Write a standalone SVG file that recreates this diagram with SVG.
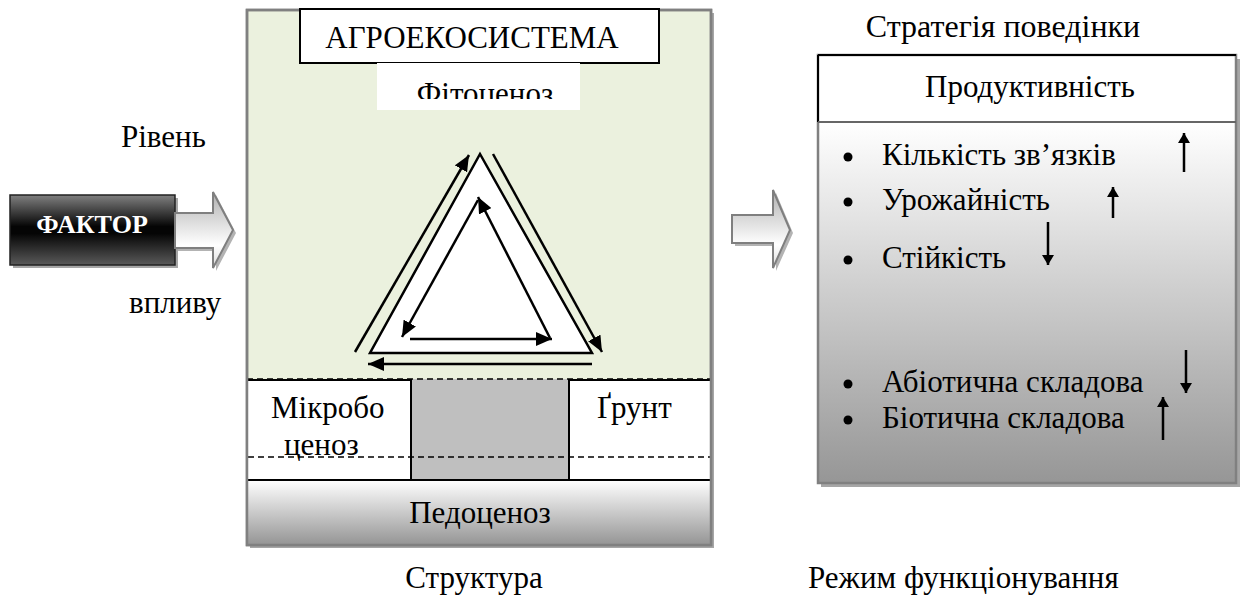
<svg xmlns="http://www.w3.org/2000/svg" width="1244" height="595" viewBox="0 0 1244 595">
<style>
.dash{stroke:#000;stroke-width:1.5;stroke-dasharray:6 4;fill:none}
.shadow{fill:#a6a6a6}
.ar{stroke:#000;stroke-width:2.5;fill:none}
.va{stroke:#000;stroke-width:2.5}
</style>
<defs>
<marker id="ah" markerUnits="userSpaceOnUse" markerWidth="18" markerHeight="14" refX="16" refY="7" orient="auto">
<path d="M0,0 L16,7 L0,14 z" fill="#000"/>
</marker>
<marker id="sh" markerUnits="userSpaceOnUse" markerWidth="12" markerHeight="12" refX="10" refY="6" orient="auto">
<path d="M0,0 L10,6 L0,12 z" fill="#000"/>
</marker>
<linearGradient id="gDark" x1="0" y1="0" x2="0" y2="1">
<stop offset="0" stop-color="#808080"/>
<stop offset="0.45" stop-color="#050505"/>
<stop offset="0.55" stop-color="#050505"/>
<stop offset="1" stop-color="#5a5a5a"/>
</linearGradient>
<linearGradient id="gArrow" x1="0" y1="0" x2="0" y2="1">
<stop offset="0" stop-color="#b0b0b0"/>
<stop offset="0.7" stop-color="#ffffff"/>
<stop offset="1" stop-color="#dcdcdc"/>
</linearGradient>
<linearGradient id="gGrey" x1="0" y1="0" x2="0" y2="1">
<stop offset="0" stop-color="#ffffff"/>
<stop offset="1" stop-color="#969696"/>
</linearGradient>
<clipPath id="clipFito"><rect x="377" y="63" width="203" height="36"/></clipPath>
</defs>

<text x="121" y="147" style="font-family:'Liberation Serif',serif;font-size:31px">Рівень</text>
<text x="129" y="313" style="font-family:'Liberation Serif',serif;font-size:31px">впливу</text>

<g id="factor">
<rect x="13" y="198" width="165" height="70" class="shadow"/>
<rect x="10" y="195" width="165" height="70" fill="url(#gDark)" stroke="#222" stroke-width="1.5"/>
<text transform="translate(92,233) scale(0.84)" text-anchor="middle" style="font-family:'Liberation Serif',serif;font-size:31px;font-weight:bold;fill:#fff">ФАКТОР</text>
</g>

<g id="arrow-in">
<polygon points="178,216 216,216 216,195 236,233 216,271 216,251 178,251" fill="#b3b3b3"/>
<polygon points="175,213 213,213 213,192 233,230 213,268 213,248 175,248" fill="url(#gArrow)" stroke="#7f7f7f" stroke-width="2"/>
</g>

<g id="agroecosystem">
<rect x="250" y="13" width="464" height="535" class="shadow"/>
<rect x="247" y="10" width="464" height="535" fill="#ebf1de" stroke="#808080" stroke-width="2.5"/>
<rect x="247" y="379" width="164" height="101" fill="#fff"/>
<rect x="411" y="379" width="158" height="101" fill="#bfbfbf"/>
<rect x="569" y="379" width="142" height="101" fill="#fff"/>
<rect x="248" y="480" width="462" height="64" fill="url(#gGrey)"/>
<line x1="247" y1="379" x2="711" y2="379" class="dash"/>
<line x1="248" y1="380" x2="411" y2="380" stroke="#000" stroke-width="2"/>
<line x1="569" y1="380" x2="710" y2="380" stroke="#000" stroke-width="2"/>
<line x1="411" y1="379" x2="411" y2="480" stroke="#000" stroke-width="2"/>
<line x1="569" y1="379" x2="569" y2="480" stroke="#000" stroke-width="2"/>
<line x1="248" y1="480" x2="710" y2="480" stroke="#000" stroke-width="2"/>
<line x1="248" y1="457" x2="710" y2="457" class="dash"/>
<rect x="247" y="10" width="464" height="535" fill="none" stroke="#808080" stroke-width="2.5"/>
</g>

<g id="title">
<rect x="300" y="9" width="359" height="54" fill="#fff" stroke="#000" stroke-width="2"/>
<text x="472" y="48" text-anchor="middle" style="font-family:'Liberation Serif',serif;font-size:31px">АГРОЕКОСИСТЕМА</text>
</g>

<g id="fitocenoz">
<rect x="377" y="63" width="203" height="47" fill="#fff"/>
<text x="485" y="104" text-anchor="middle" clip-path="url(#clipFito)" style="font-family:'Liberation Serif',serif;font-size:31px">Фітоценоз</text>
</g>

<g id="triangle">
<polygon points="480,154 370,353 592,353" fill="#fff" stroke="#000" stroke-width="2.5"/>
</g>

<g id="microbocenoz">
<text x="271" y="418" style="font-family:'Liberation Serif',serif;font-size:31px">Мікробо</text>
<text x="284" y="455" style="font-family:'Liberation Serif',serif;font-size:31px">ценоз</text>
</g>
<g id="grunt">
<text x="597" y="418" style="font-family:'Liberation Serif',serif;font-size:31px">Ґрунт</text>
</g>
<g id="pedocenoz">
<text x="480" y="523" text-anchor="middle" style="font-family:'Liberation Serif',serif;font-size:31px">Педоценоз</text>
</g>

<g id="connectors">
<line x1="355" y1="352" x2="469" y2="155" class="ar" marker-end="url(#ah)"/>
<line x1="493" y1="154" x2="602" y2="352" class="ar" marker-end="url(#ah)"/>
<line x1="592" y1="364" x2="368" y2="364" class="ar" marker-end="url(#ah)"/>
<line x1="550" y1="338" x2="478" y2="197" class="ar" marker-end="url(#ah)"/>
<line x1="478" y1="200" x2="402" y2="337" class="ar" marker-end="url(#ah)"/>
<line x1="410" y1="339" x2="552" y2="339" class="ar" marker-end="url(#ah)"/>
</g>

<g id="arrow-out">
<polygon points="735,218 776,218 776,193 793,233 776,271 776,246 735,246" fill="#b3b3b3"/>
<polygon points="732,215 773,215 773,190 790,230 773,268 773,243 732,243" fill="url(#gArrow)" stroke="#7f7f7f" stroke-width="2"/>
</g>

<text x="1003" y="37" text-anchor="middle" style="font-family:'Liberation Serif',serif;font-size:32px">Стратегія поведінки</text>

<g id="strategy">
<rect x="821" y="59" width="419" height="428" class="shadow"/>
<rect x="818" y="122" width="418" height="361" fill="url(#gGrey)"/>
<rect x="818" y="55" width="418" height="67" fill="#fff" stroke="#000" stroke-width="2"/>
<rect x="818" y="55" width="418" height="428" fill="none" stroke="#808080" stroke-width="2.5"/>
<line x1="818" y1="55" x2="1236" y2="55" stroke="#000" stroke-width="2"/>
<line x1="818" y1="55" x2="818" y2="122" stroke="#000" stroke-width="2"/>
<line x1="818" y1="122" x2="1236" y2="122" stroke="#666" stroke-width="2"/>
<text x="1030" y="97" text-anchor="middle" style="font-family:'Liberation Serif',serif;font-size:31px">Продуктивність</text>
<circle cx="848" cy="157" r="4.5"/>
<text x="882" y="165" style="font-family:'Liberation Serif',serif;font-size:31px">Кількість зв’язків</text>
<circle cx="848" cy="202" r="4.5"/>
<text x="882" y="210" style="font-family:'Liberation Serif',serif;font-size:31px">Урожайність</text>
<circle cx="848" cy="260" r="4.5"/>
<text x="882" y="268" style="font-family:'Liberation Serif',serif;font-size:31px">Стійкість</text>
<circle cx="848" cy="384" r="4.5"/>
<text x="882" y="392" style="font-family:'Liberation Serif',serif;font-size:31px">Абіотична складова</text>
<circle cx="848" cy="420" r="4.5"/>
<text x="882" y="428" style="font-family:'Liberation Serif',serif;font-size:31px">Біотична складова</text>
<line x1="1184" y1="172" x2="1184" y2="133" class="va" marker-end="url(#sh)"/>
<line x1="1113" y1="218" x2="1113" y2="187" class="va" marker-end="url(#sh)"/>
<line x1="1048" y1="222" x2="1048" y2="265" class="va" marker-end="url(#sh)"/>
<line x1="1186" y1="350" x2="1186" y2="393" class="va" marker-end="url(#sh)"/>
<line x1="1163" y1="440" x2="1163" y2="397" class="va" marker-end="url(#sh)"/>
</g>

<text x="474" y="588" text-anchor="middle" style="font-family:'Liberation Serif',serif;font-size:31px">Структура</text>
<text x="808" y="588" style="font-family:'Liberation Serif',serif;font-size:31px">Режим функціонування</text>
</svg>
